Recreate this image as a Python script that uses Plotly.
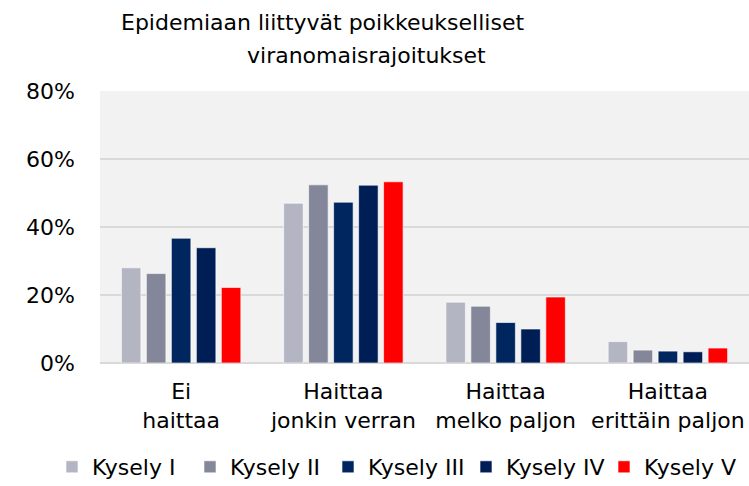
import plotly.graph_objects as go

categories = ["Ei<br>haittaa", "Haittaa<br>jonkin verran", "Haittaa<br>melko paljon", "Haittaa<br>erittäin paljon"]
series_names = ["Kysely I", "Kysely II", "Kysely III", "Kysely IV", "Kysely V"]
kysely_1 = [0.280, 0.470, 0.179, 0.063]
kysely_2 = [0.263, 0.524, 0.167, 0.038]
kysely_3 = [0.367, 0.473, 0.119, 0.035]
kysely_4 = [0.339, 0.523, 0.100, 0.033]
kysely_5 = [0.222, 0.533, 0.194, 0.044]
series_values = [kysely_1, kysely_2, kysely_3, kysely_4, kysely_5]
colors = ["#b4b5c3", "#838799", "#00265f", "#001e56", "#ff0000"]
y_ticks = [0, 0.2, 0.4, 0.6, 0.8]
y_tick_labels = ["0%", "20%", "40%", "60%", "80%"]
title_lines = ["Epidemiaan liittyvät poikkeukselliset", "viranomaisrajoitukset"]

FONT = "DejaVu Sans"
W, H = 749, 486
ML, MR, MT, MB = 100, 0, 91, 123
PW, PH = W - ML - MR, H - MT - MB


def px_to_paper_x(px):
    return (px - ML) / PW


def px_to_paper_y(py):
    return (H - MB - py) / PH


fig = go.Figure()
for name, vals, col in zip(series_names, series_values, colors):
    fig.add_trace(go.Bar(
        x=categories, y=vals, name=name,
        marker=dict(color=col, line=dict(color="rgba(255,255,255,0.6)", width=1)),
    ))

fig.update_layout(
    width=W, height=H,
    margin=dict(l=ML, r=MR, t=MT, b=MB, autoexpand=False),
    paper_bgcolor="white",
    plot_bgcolor="#f2f2f2",
    barmode="group",
    bargap=0.23,
    bargroupgap=0.22,
    font=dict(family=FONT, color="black", size=20),
    showlegend=True,
    legend=dict(
        orientation="h",
        xref="paper", yref="paper",
        x=px_to_paper_x(52), xanchor="left",
        y=px_to_paper_y(467), yanchor="middle",
        font=dict(size=22, family=FONT),
        itemwidth=30,
        entrywidth=93, entrywidthmode="pixels",
        tracegroupgap=0,
    ),
    xaxis=dict(
        showgrid=False, showline=False, ticks="",
        tickfont=dict(size=22, family=FONT),
        ticklabelstandoff=13,
    ),
    yaxis=dict(
        range=[0, 0.8],
        tickvals=y_ticks, ticktext=y_tick_labels,
        showgrid=True, gridcolor="#d9d9d9", gridwidth=2,
        zeroline=True, zerolinecolor="#d9d9d9", zerolinewidth=2,
        showline=False, ticks="",
        tickfont=dict(size=22, family=FONT),
        ticklabelstandoff=24,
    ),
)

fig.add_annotation(text=title_lines[0], xref="paper", yref="paper",
                   x=px_to_paper_x(322), y=px_to_paper_y(22), xanchor="center", yanchor="middle",
                   showarrow=False, font=dict(size=22, family=FONT))
fig.add_annotation(text=title_lines[1], xref="paper", yref="paper",
                   x=px_to_paper_x(366), y=px_to_paper_y(55), xanchor="center", yanchor="middle",
                   showarrow=False, font=dict(size=22, family=FONT))

fig.write_html("out.html", config={"displayModeBar": False},
               post_script="document.body.style.margin='0';")
